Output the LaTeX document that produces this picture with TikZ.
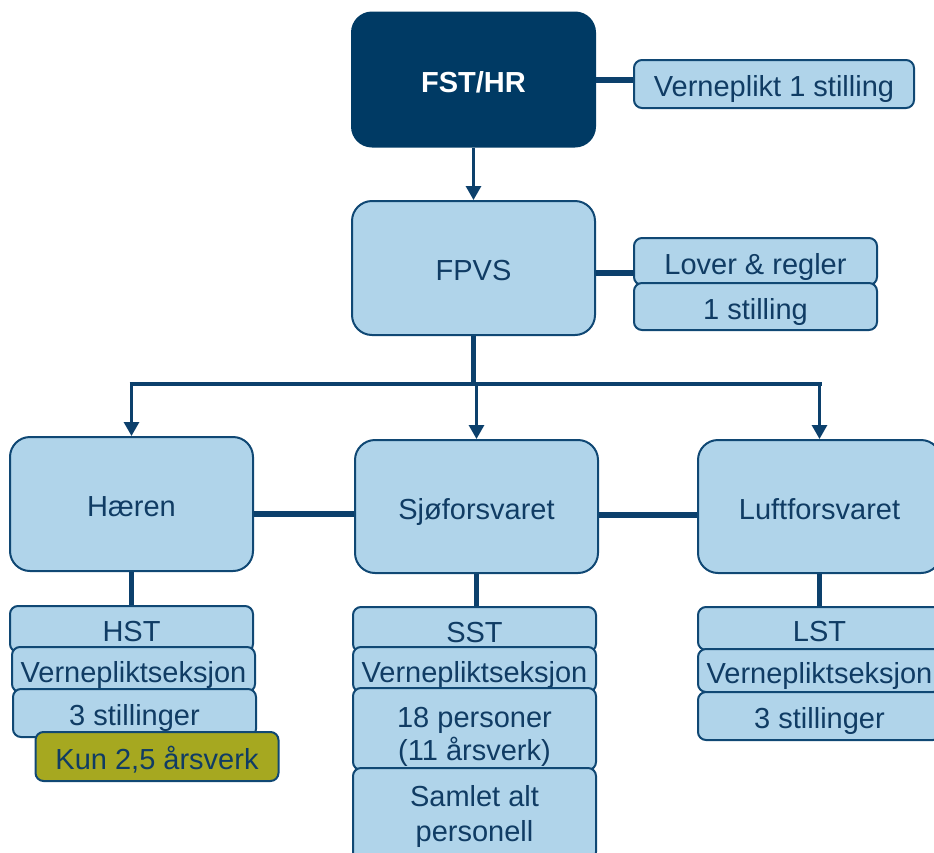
\documentclass[tikz,border=0pt]{standalone}
\usepackage{fontspec}
\setmainfont{Liberation Sans}
\usetikzlibrary{arrows.meta}
\definecolor{lightfill}{RGB}{176,212,234}
\definecolor{edgeblue}{RGB}{16,72,116}
\definecolor{navy}{RGB}{0,58,100}
\definecolor{txtblue}{RGB}{16,60,100}
\definecolor{olivefill}{RGB}{166,168,32}
\definecolor{connblue}{RGB}{12,64,108}
\tikzset{
  mainbox/.style={draw=edgeblue, line width=2pt, fill=lightfill, rounded corners=20pt,
    minimum width=243pt, minimum height=134pt, text=txtblue, font=\fontsize{29}{33}\selectfont,
    inner sep=0pt, text height=25pt, text depth=0pt},
  topbox/.style={mainbox, fill=navy, draw=navy, text=white, font=\fontsize{29}{33}\selectfont\bfseries},
  smallbox/.style={draw=edgeblue, line width=2pt, fill=lightfill, rounded corners=8pt,
    minimum width=243pt, text=txtblue, font=\fontsize{29}{33}\selectfont, inner sep=0pt,
    text height=25pt, text depth=0pt},
  multibox/.style={draw=edgeblue, line width=2pt, fill=lightfill, rounded corners=8pt,
    minimum width=243pt, inner sep=0pt},
  multitext/.style={text=txtblue, align=center, inner sep=0pt},
  olivebox/.style={smallbox, fill=olivefill},
  sideconn/.style={draw=connblue, line width=6pt},
  barconn/.style={draw=connblue, line width=4.5pt},
  arrowconn/.style={draw=connblue, line width=3pt, -{Triangle[length=14pt,width=15pt]}},
}
\begin{document}
\begin{tikzpicture}[x=1pt,y=-1pt]
\useasboundingbox (0,0) rectangle (934,852);
\clip (0,0) rectangle (934,852);
% main boxes
\node[topbox] (fst) at (473.5,79.5) {FST/HR};
\node[mainbox] (fpvs) at (473.5,268) {FPVS};
\node[mainbox] (haeren) at (131.5,504) {Hæren};
\node[mainbox, minimum height=133pt] (sjo) at (476.5,506.5) {Sjøforsvaret};
\node[mainbox, minimum height=133pt] (luft) at (819.5,506.5) {Luftforsvaret};
% side boxes
\node[smallbox, minimum width=280pt, minimum height=48pt] (vp1) at (774,84) {Verneplikt 1 stilling};
\node[smallbox, minimum height=47pt] (lover) at (755.5,261.5) {Lover \& regler};
\node[smallbox, minimum height=47pt] (still1) at (755.5,306.5) {1 stilling};
% Hæren stack
\node[smallbox, minimum height=46pt] (hst) at (131.5,629) {HST};
\node[smallbox, minimum height=45pt] (hvp) at (133.5,669.5) {Vernepliktseksjon};
\node[smallbox, minimum height=48pt] (h3) at (134.5,713) {3 stillinger};
\node[olivebox, minimum height=49pt] (kun) at (157,756.5) {Kun 2,5 årsverk};
% Sjø stack
\node[smallbox, minimum height=45pt] (sst) at (474.5,629.5) {SST};
\node[smallbox, minimum height=45pt] (svp) at (474.5,669.5) {Vernepliktseksjon};
\node[multibox, minimum height=82pt,
  label={[multitext, yshift=-8pt, font=\fontsize{29}{33}\selectfont]center:18 personer\\(11 årsverk)}] (s18) at (474.5,729) {};
\node[multibox, minimum height=92pt,
  label={[multitext, yshift=-2pt, font=\fontsize{29}{35}\selectfont]center:Samlet alt\\personell}] (samlet) at (474.5,814) {};
% Luft stack
\node[smallbox, minimum height=43pt] (lst) at (819.5,628.5) {LST};
\node[smallbox, minimum height=43pt] (lvp) at (819.5,670.5) {Vernepliktseksjon};
\node[smallbox, minimum height=48pt] (l3) at (819.5,716) {3 stillinger};
% connectors
\draw[sideconn] (fst.east) -- (fst.east -| vp1.west);
\coordinate (lj) at (634,273);
\draw[sideconn] (lj -| fpvs.east) -- (lj);
\draw[arrowconn] (fst.south) -- (fpvs.north);
\coordinate (bar) at (476,384);
\draw[barconn] (fpvs.south) -- (fpvs.south |- bar);
\draw[barconn] ([xshift=-2pt]haeren.north |- bar) -- ([xshift=2pt]luft.north |- bar);
\draw[arrowconn] (haeren.north |- bar) -- (haeren.north);
\draw[arrowconn] (sjo.north |- bar) -- (sjo.north);
\draw[arrowconn] (luft.north |- bar) -- (luft.north);
\draw[sideconn] ([yshift=-10pt]haeren.east) -- ([yshift=-10pt]haeren.east -| sjo.west);
\draw[sideconn] ([yshift=-8pt]sjo.east) -- ([yshift=-8pt]sjo.east -| luft.west);
\draw[barconn] (haeren.south) -- (haeren.south |- hst.north);
\draw[barconn] (sjo.south) -- (sjo.south |- sst.north);
\draw[barconn] (luft.south) -- (luft.south |- lst.north);
\end{tikzpicture}
\end{document}
